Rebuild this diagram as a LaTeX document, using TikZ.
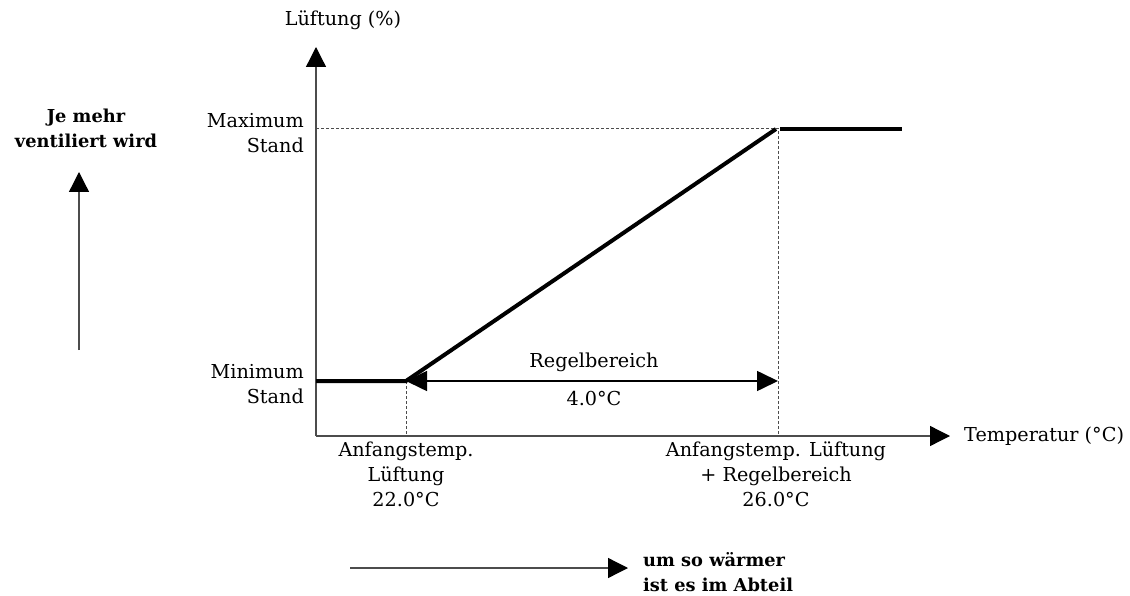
\documentclass[tikz,border=0pt]{standalone}
\usepackage{fontspec}
\setmainfont{DejaVu Serif}
\usetikzlibrary{arrows.meta}
\begin{document}
\begin{tikzpicture}[x=1pt,y=-1pt,
  font=\fontsize{19.2}{25}\selectfont,
  axis/.style={draw=black!70, line width=1.3pt, -{Triangle[length=20pt,width=20pt,color=black]}},
  thick line/.style={draw=black, line width=4pt},
  guide/.style={draw=black!70, line width=0.8pt, dash pattern=on 3pt off 2pt},
  lbl/.style={inner sep=0pt, align=center},
  bold lbl/.style={inner sep=0pt, align=center, font=\fontsize{17.8}{25}\selectfont\bfseries}]
\useasboundingbox (0,0) rectangle (1130,596);
% coordinates
\coordinate (O) at (316,436);
\coordinate (Ytip) at (316,47);
\coordinate (Xtip) at (950,436);
\coordinate (Ymin) at (316,381);
\coordinate (A) at (406,381);
\coordinate (Aaxis) at (406,436);
\coordinate (B) at (776,129);
\coordinate (Ymax) at (316,128);
\coordinate (Bc) at (778,128);
\coordinate (Baxis) at (778,436);
\coordinate (R) at (778,381);
\coordinate (Tstart) at (780,129);
\coordinate (Tend) at (902,129);
\coordinate (Ustart) at (79,350);
\coordinate (Utip) at (79,172);
\coordinate (Wstart) at (350,568);
\coordinate (Wtip) at (628,568);
% guides
\draw[guide] (Ymax) -- (Bc) -- (Baxis);
\draw[guide] (A) -- (Aaxis);
% axes
\draw[axis] (O) -- (Ytip);
\draw[axis] (O) -- (Xtip);
% curve
\draw[thick line] (Ymin) -- (A) -- (B);
\draw[thick line] (Tstart) -- (Tend);
% range arrow
\draw[draw=black, line width=1.6pt, {Triangle[length=21pt,width=20pt]}-{Triangle[length=21pt,width=20pt]}] (A) -- (R);
% side arrows
\draw[axis] (Ustart) -- (Utip);
\draw[axis] (Wstart) -- (Wtip);
% labels
\node[lbl] (ylab) at (343,20) {Lüftung (\%)};
\node[lbl, anchor=west] (xlab) at (964,436) {Temperatur (°C)};
\node[lbl, anchor=east, align=right] (maxlab) at (304,133) {Maximum\\Stand};
\node[lbl, anchor=east, align=right] (minlab) at (304,384) {Minimum\\Stand};
\node[lbl] (rlab) at (594,362) {Regelbereich};
\node[lbl] (rval) at (594,399) {4.0°C};
\node[lbl, anchor=north] (alab) at (406,442) {Anfangstemp.\\Lüftung\\22.0°C};
\node[lbl, anchor=north] (blab) at (776,442) {Anfangstemp. Lüftung\\+ Regelbereich\\26.0°C};
\node[bold lbl] (jelab) at (86,128) {Je mehr\\ventiliert wird};
\node[bold lbl, anchor=west, align=left] (wlab) at (643,572) {um so wärmer\\ist es im Abteil};
\end{tikzpicture}
\end{document}
